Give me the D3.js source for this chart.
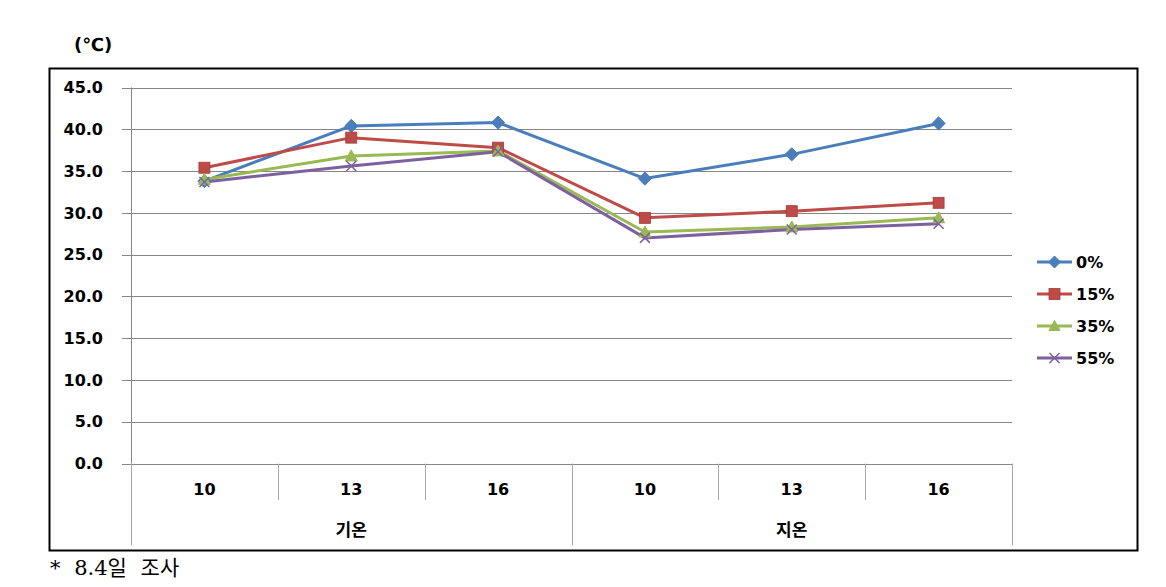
<!DOCTYPE html>
<html><head><meta charset="utf-8">
<script src="https://cdn.jsdelivr.net/npm/d3@7"></script>
<style>
html,body{margin:0;padding:0;background:#fff;}
svg{display:block;}
text{font-family:'DejaVu Sans','Noto Sans CJK KR',sans-serif;}
</style></head><body>
<svg id="chart" width="1166" height="587"></svg>
<script>
// ---- data ----
const categories = ["10","13","16","10","13","16"];
const groups = ["기온","지온"];
const seriesNames = ["0%","15%","35%","55%"];
const values0 = [33.8, 40.4, 40.8, 34.1, 37.0, 40.7];
const values15 = [35.4, 39.0, 37.8, 29.4, 30.2, 31.2];
const values35 = [34.0, 36.8, 37.4, 27.7, 28.3, 29.4];
const values55 = [33.7, 35.6, 37.3, 27.0, 28.0, 28.7];
const yTicks = [0,5,10,15,20,25,30,35,40,45];
const unitLabel = "(℃)";
const footnote = "* 8.4일 조사";

const seriesValues = [values0, values15, values35, values55];
const colors = ["#4A7EBB","#BE4B48","#98B954","#7D60A0"];
const markers = ["diamond","square","triangle","x"];

const svg = d3.select("#chart");
const L = 131, R = 1012, T = 87.5, B = 463.5;

// chart border
svg.append("rect").attr("x",49.5).attr("y",68.5).attr("width",1088).attr("height",482)
  .attr("fill","none").attr("stroke","#000").attr("stroke-width",2);

const keys = categories.map((c,i)=>i);
const x = d3.scaleBand().domain(keys).range([L,R]).paddingInner(0).paddingOuter(0);
const y = d3.scaleLinear().domain([0,45]).range([B,T]);

// gridlines
svg.append("g").selectAll("line").data(yTicks).join("line")
  .attr("x1",L-9).attr("x2",R).attr("y1",d=>Math.round(y(d))+0.5).attr("y2",d=>Math.round(y(d))+0.5)
  .attr("stroke","#868686").attr("stroke-width",1);
// y axis line
svg.append("line").attr("x1",L+0.5).attr("x2",L+0.5).attr("y1",T).attr("y2",B)
  .attr("stroke","#868686");
// y labels
svg.append("g").selectAll("text").data(yTicks).join("text")
  .attr("x",103).attr("y",d=>y(d)).attr("dy","0.36em").attr("text-anchor","end")
  .attr("font-size",16).attr("font-weight","bold").attr("fill","#000")
  .text(d=>d3.format(".1f")(d));

// x axis separators
const seps = keys.map(k=>x(k)).concat([R]);
svg.append("g").selectAll("line").data(seps).join("line")
  .attr("x1",d=>Math.round(d)+0.5).attr("x2",d=>Math.round(d)+0.5)
  .attr("y1",B).attr("y2",(d,i)=> (i%3===0) ? 545 : 500)
  .attr("stroke","#a6a6a6").attr("stroke-width",1);
// category labels
svg.append("g").selectAll("text").data(keys).join("text")
  .attr("x",k=>x(k)+x.bandwidth()/2).attr("y",489).attr("dy","0.36em")
  .attr("text-anchor","middle").attr("font-size",16).attr("font-weight","bold")
  .text(k=>categories[k]);
// group labels
svg.append("g").selectAll("text").data(groups).join("text")
  .attr("x",(g,i)=> (x(i*3)+x(i*3+2)+x.bandwidth())/2).attr("y",530).attr("dy","0.36em")
  .attr("text-anchor","middle").attr("font-size",17).attr("font-weight","bold")
  .text(g=>g);

// unit label
svg.append("text").attr("x",74).attr("y",45).attr("dy","0.36em").attr("font-size",18)
  .attr("font-weight","bold").text(unitLabel);

// marker drawing
function drawMarker(g, type, color, size){
  const s = size;
  if(type==="diamond"){
    g.append("path").attr("d",`M0,${-s*0.6}L${s*0.6},0L0,${s*0.6}L${-s*0.6},0Z`).attr("fill",color).attr("stroke",color);
  } else if(type==="square"){
    g.append("rect").attr("x",-s/2).attr("y",-s/2).attr("width",s).attr("height",s).attr("fill",color).attr("stroke","#a33b38").attr("stroke-width",0.8);
  } else if(type==="triangle"){
    g.append("path").attr("d",`M0,${-s*0.55}L${s*0.55},${s*0.45}L${-s*0.55},${s*0.45}Z`).attr("fill",color).attr("stroke",color);
  } else {
    const h = s*0.5;
    g.append("path").attr("d",`M${-h},${-h}L${h},${h}M${-h},${h}L${h},${-h}`).attr("stroke",color).attr("stroke-width",1.5).attr("fill","none");
  }
}

const line = d3.line().x((d,i)=>x(i)+x.bandwidth()/2).y(d=>y(d));
seriesValues.forEach((vals,si)=>{
  svg.append("path").datum(vals).attr("d",line).attr("fill","none")
    .attr("stroke",colors[si]).attr("stroke-width",3).attr("stroke-linejoin","round");
});
seriesValues.forEach((vals,si)=>{
  vals.forEach((v,i)=>{
    const g = svg.append("g").attr("transform",`translate(${x(i)+x.bandwidth()/2},${y(v)})`);
    drawMarker(g, markers[si], colors[si], si===1?11:(si===3?10:11));
  });
});

// legend
const legY = [262, 294, 326, 358];
seriesNames.forEach((n,i)=>{
  svg.append("line").attr("x1",1037).attr("x2",1072).attr("y1",legY[i]).attr("y2",legY[i])
    .attr("stroke",colors[i]).attr("stroke-width",3);
  const g = svg.append("g").attr("transform",`translate(1054.5,${legY[i]})`);
  drawMarker(g, markers[i], colors[i], i===1?11:10);
  svg.append("text").attr("x",1076).attr("y",legY[i]).attr("dy","0.36em")
    .attr("font-size",16).attr("font-weight","bold").text(n);
});

// footnote
svg.append("text").attr("x",50).attr("y",567).attr("dy","0.36em")
  .attr("font-size",21).attr("word-spacing",7)
  .style("font-family","'DejaVu Serif','Noto Sans CJK KR',serif")
  .text(footnote);
</script>
</body></html>
